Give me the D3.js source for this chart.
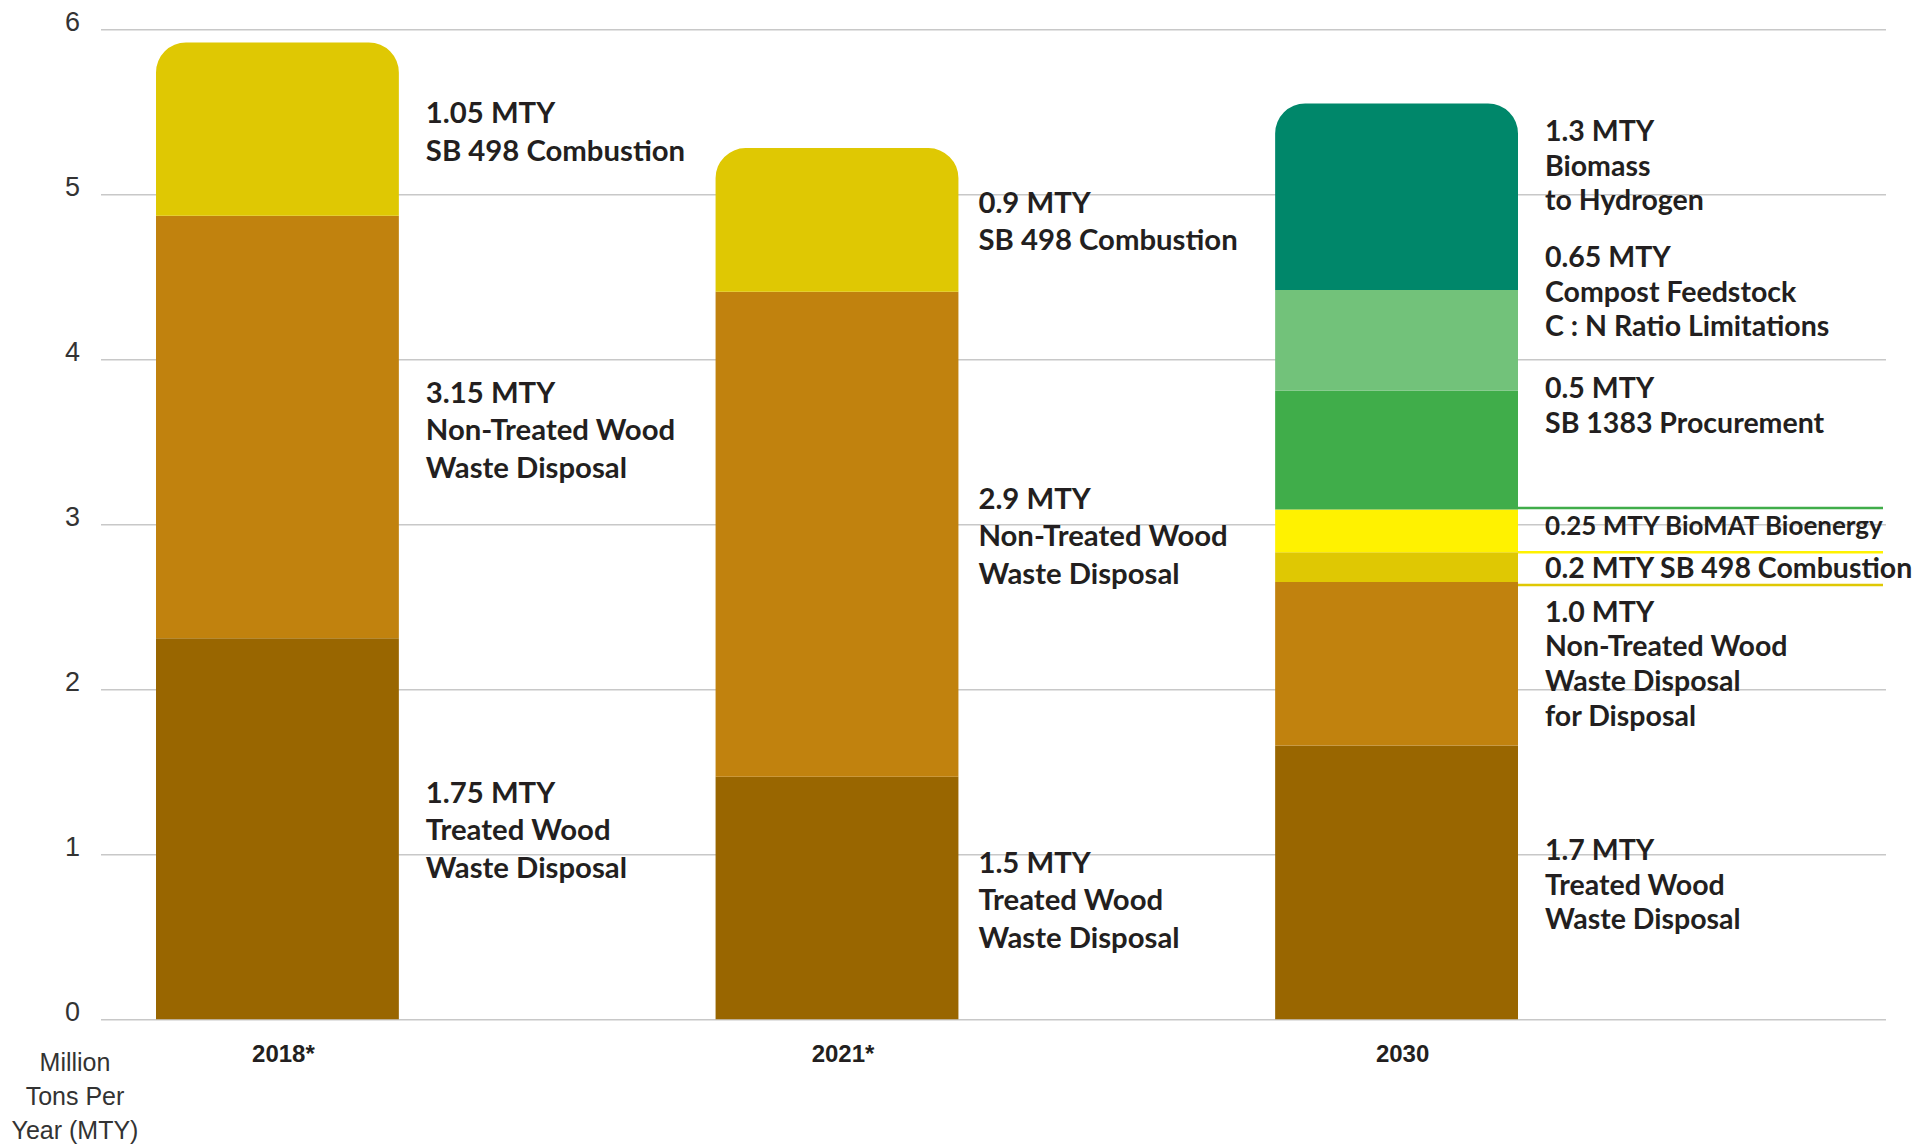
<!DOCTYPE html>
<html>
<head>
<meta charset="utf-8">
<script src="https://cdn.jsdelivr.net/npm/d3@7"></script>
<style>
  body { margin: 0; background: #fff; }
  .grid line { stroke: #c8c8c8; stroke-width: 1.6; }
  .grid text { font-family: "Liberation Sans", Arial, sans-serif; font-size: 27px; fill: #333; }
  .seg-label { font-family: Lato, "Open Sans", sans-serif; font-weight: 700; fill: #231f20; }
  .cat-label { font-family: "Liberation Sans", Arial, sans-serif; font-weight: 700; font-size: 24px; fill: #231f20; }
  .unit-label { font-family: "Liberation Sans", Arial, sans-serif; font-size: 25px; fill: #333; }
</style>
</head>
<body>
<div id="chart"></div>
<script>
const width = 1929;
const height = 1145;

// categories and series
const categories = ['2018*', '2021*', '2030'];
const seriesKeys = ['treated', 'nonTreated', 'sb498', 'biomat', 'sb1383', 'compost', 'biomass'];
const seriesColors = ['#996600', '#c1820e', '#dfc803', '#fff200', '#40ad4a', '#72c27a', '#00876a'];

// segment heights (MTY) as drawn in the bars
const treated    = [2.31, 1.47, 1.66];
const nonTreated = [2.56, 2.94, 0.99];
const sb498      = [1.05, 0.87, 0.18];
const biomat     = [0, 0, 0.26];
const sb1383     = [0, 0, 0.72];
const compost    = [0, 0, 0.61];
const biomass    = [0, 0, 1.13];

const yTicks = [0, 1, 2, 3, 4, 5, 6];

// label texts, top to bottom
const labels2018 = [
    ['1.05 MTY', 'SB 498 Combustion'],
    ['3.15 MTY', 'Non-Treated Wood', 'Waste Disposal'],
    ['1.75 MTY', 'Treated Wood', 'Waste Disposal']
];
const labels2021 = [
    ['0.9 MTY', 'SB 498 Combustion'],
    ['2.9 MTY', 'Non-Treated Wood', 'Waste Disposal'],
    ['1.5 MTY', 'Treated Wood', 'Waste Disposal']
];
const labels2030 = [
    ['1.3 MTY', 'Biomass', 'to Hydrogen'],
    ['0.65 MTY', 'Compost Feedstock', 'C : N Ratio Limitations'],
    ['0.5 MTY', 'SB 1383 Procurement'],
    ['0.25 MTY BioMAT Bioenergy'],
    ['0.2 MTY SB 498 Combustion'],
    ['1.0 MTY', 'Non-Treated Wood', 'Waste Disposal', 'for Disposal'],
    ['1.7 MTY', 'Treated Wood', 'Waste Disposal']
];
const unitLines = ['Million', 'Tons Per', 'Year (MTY)'];

// layout: where each label block starts (first baseline, in MTY on the y scale)
const labelAt = {
    '2018*': [5.43, 3.735, 1.31],
    '2021*': [4.887, 3.093, 0.887],
    '2030': [5.323, 4.559, 3.765, 2.935, 2.675, 2.41, 0.966]
};
const labelSets = { '2018*': labels2018, '2021*': labels2021, '2030': labels2030 };

const svg = d3.select('#chart')
    .append('svg')
    .attr('width', width)
    .attr('height', height);

// scales
const y = d3.scaleLinear().domain([0, 6]).range([1019.3, 29.3]);
const x = d3.scaleBand().domain(categories).range([156, 1518])
    .paddingInner(0.566).paddingOuter(0);

// grid + tick labels
const gridLeft = 101, gridRight = 1886;
const grid = svg.append('g')
    .attr('class', 'grid')
    .attr('transform', `translate(${gridLeft},0)`)
    .call(d3.axisLeft(y).tickValues(yTicks).tickSize(-(gridRight - gridLeft)).tickPadding(21).tickFormat(d3.format('d')));
grid.select('.domain').remove();
grid.selectAll('text').attr('dy', '0.03em');

// stacked data
const table = categories.map((c, i) => ({
    cat: c, treated: treated[i], nonTreated: nonTreated[i], sb498: sb498[i],
    biomat: biomat[i], sb1383: sb1383[i], compost: compost[i], biomass: biomass[i]
}));
const stacked = d3.stack().keys(seriesKeys)(table);

// which series is on top of each bar
const topKey = {};
table.forEach(row => {
    seriesKeys.forEach(k => { if (row[k] > 0) topKey[row.cat] = k; });
});

const radius = 30;
function segPath(d, key) {
    const x0 = x(d.data.cat), w = x.bandwidth();
    const yb = y(d[0]), yt = y(d[1]);
    if (topKey[d.data.cat] !== key) {
        return `M${x0},${yb}V${yt}H${x0 + w}V${yb}Z`;
    }
    const r = radius;
    return `M${x0},${yb}V${yt + r}A${r},${r} 0 0 1 ${x0 + r},${yt}` +
        `H${x0 + w - r}A${r},${r} 0 0 1 ${x0 + w},${yt + r}V${yb}Z`;
}

svg.append('g').selectAll('g')
    .data(stacked)
    .join('g')
    .attr('fill', (d, i) => seriesColors[i])
    .each(function (series) {
        d3.select(this).selectAll('path')
            .data(series.filter(d => d[1] - d[0] > 0))
            .join('path')
            .attr('d', d => segPath(d, series.key));
    });

// leader lines in 2030 column
const leaders = ['sb1383', 'biomat', 'sb498'];
const lineEnd = 1883;
leaders.forEach(k => {
    const s = stacked[seriesKeys.indexOf(k)];
    const d = s[categories.indexOf('2030')];
    const off = k === 'sb498' ? 3 : (k === 'sb1383' ? -1.5 : 0);
    svg.append('line')
        .attr('x1', x('2030') + x.bandwidth())
        .attr('x2', lineEnd)
        .attr('y1', y(d[0]) + off)
        .attr('y2', y(d[0]) + off)
        .attr('stroke', seriesColors[seriesKeys.indexOf(k)])
        .attr('stroke-width', 2.5);
});

// segment labels
categories.forEach(cat => {
    const is2030 = cat === '2030';
    const fs = is2030 ? 28.5 : 29.3;
    const lh = is2030 ? 34.7 : 37.3;
    const gap = cat === '2021*' ? 20 : 27;
    const tx = x(cat) + x.bandwidth() + gap;
    labelSets[cat].forEach((lines, bi) => {
        const t = svg.append('text')
            .attr('class', 'seg-label')
            .attr('x', tx)
            .attr('y', y(labelAt[cat][bi]))
            .style('font-size', (lines[0].indexOf('BioMAT') >= 0 ? 26 : fs) + 'px');
        lines.forEach((ln, li) => {
            t.append('tspan').attr('x', tx).attr('dy', li === 0 ? 0 : lh).text(ln);
        });
    });
});

// category labels
svg.append('g').selectAll('text')
    .data(categories)
    .join('text')
    .attr('class', 'cat-label')
    .attr('text-anchor', 'middle')
    .attr('x', d => x(d) + x.bandwidth() / 2 + 6)
    .attr('y', 1062)
    .text(d => d);

// unit label
svg.append('text')
    .attr('class', 'unit-label')
    .attr('text-anchor', 'middle')
    .selectAll('tspan')
    .data(unitLines)
    .join('tspan')
    .attr('x', 75)
    .attr('y', (d, i) => 1071 + i * 34)
    .text(d => d);
</script>
</body>
</html>
